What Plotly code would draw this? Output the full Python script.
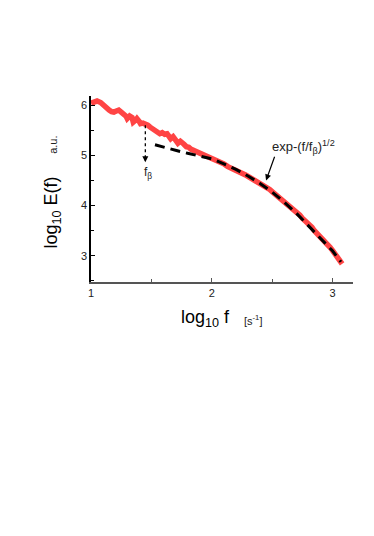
import plotly.graph_objects as go

# measured spectrum (log10 f, log10 E)
spec_x = [1.00, 1.03, 1.05, 1.08, 1.10, 1.13, 1.15, 1.17, 1.19, 1.21, 1.23, 1.25, 1.27,
          1.29, 1.30, 1.32, 1.34, 1.35, 1.37, 1.38, 1.40, 1.41, 1.43, 1.45, 1.47, 1.49,
          1.51, 1.53, 1.55, 1.57, 1.59, 1.61, 1.63, 1.65, 1.66, 1.68, 1.70, 1.72, 1.74,
          1.75, 1.77, 1.79, 1.81, 1.83, 1.85, 1.88, 1.90, 1.93, 1.95, 1.98, 2.00, 2.03,
          2.05, 2.08, 2.10, 2.13, 2.15, 2.18, 2.20, 2.23, 2.25, 2.28, 2.30, 2.33, 2.35,
          2.38, 2.40, 2.43, 2.45, 2.48, 2.50, 2.53, 2.55, 2.58, 2.60, 2.63, 2.65, 2.68,
          2.70, 2.73, 2.75, 2.78, 2.80, 2.83, 2.85, 2.88, 2.90, 2.93, 2.95, 2.98, 3.00,
          3.03, 3.05, 3.07, 3.08]
spec_y = [6.04, 6.07, 6.08, 6.05, 6.00, 5.95, 5.90, 5.87, 5.86, 5.88, 5.90, 5.86, 5.83,
          5.78, 5.73, 5.78, 5.75, 5.66, 5.70, 5.73, 5.67, 5.63, 5.64, 5.63, 5.60, 5.56,
          5.53, 5.50, 5.48, 5.43, 5.45, 5.42, 5.43, 5.36, 5.33, 5.37, 5.30, 5.24, 5.28,
          5.27, 5.22, 5.17, 5.16, 5.12, 5.10, 5.07, 5.04, 5.01, 4.99, 4.96, 4.94, 4.90,
          4.88, 4.85, 4.83, 4.78, 4.76, 4.73, 4.71, 4.66, 4.64, 4.61, 4.58, 4.54, 4.51,
          4.47, 4.44, 4.40, 4.37, 4.32, 4.28, 4.22, 4.18, 4.13, 4.09, 4.03, 3.98, 3.93,
          3.87, 3.81, 3.75, 3.69, 3.62, 3.57, 3.50, 3.43, 3.37, 3.30, 3.24, 3.17, 3.11,
          3.02, 2.95, 2.89, 2.84]

# stretched exponential fit
fit_x = [1.53, 1.60, 1.70, 1.80, 1.90, 2.00, 2.10, 2.20, 2.30, 2.40, 2.50, 2.60, 2.70,
         2.80, 2.90, 3.00, 3.07]
fit_y = [5.21, 5.17, 5.10, 5.04, 4.98, 4.93, 4.83, 4.72, 4.59, 4.44, 4.27, 4.07, 3.85,
         3.60, 3.35, 3.10, 2.88]

f_beta = 1.45

FONT = "Liberation Sans, Arial, sans-serif"

fig = go.Figure()

fig.add_trace(go.Scatter(
    x=spec_x, y=spec_y, mode='lines',
    line=dict(color='#ff4444', width=5.5),
    hoverinfo='skip'
))

fig.add_trace(go.Scatter(
    x=fit_x, y=fit_y, mode='lines',
    line=dict(color='black', width=3, dash='10px,6px'),
    hoverinfo='skip'
))

# dotted drop line marking f_beta
fig.add_trace(go.Scatter(
    x=[f_beta, f_beta], y=[5.60, 4.90], mode='lines',
    line=dict(color='black', width=1.3, dash='dot'),
    hoverinfo='skip'
))

fig.add_annotation(x=f_beta, y=4.86, ax=f_beta, ay=4.95, xref='x', yref='y',
                   axref='x', ayref='y', text='', showarrow=True,
                   arrowhead=2, arrowsize=1, arrowwidth=1.2, arrowcolor='black')
fig.add_annotation(x=1.47, y=4.64, xref='x', yref='y', text='f<sub>β</sub>',
                   showarrow=False, font=dict(size=12, color='#222'))

# fit label and arrow
fig.add_annotation(x=2.45, y=4.50, ax=2.525, ay=5.00, xref='x', yref='y',
                   axref='x', ayref='y', text='', showarrow=True,
                   arrowhead=2, arrowsize=1, arrowwidth=1.2, arrowcolor='black')
fig.add_annotation(x=2.76, y=5.17, xref='x', yref='y',
                   text='exp-(f/f<sub>β</sub>)<sup>1/2</sup>',
                   showarrow=False, font=dict(size=13, color='#222'))

# axis titles
titles = [
    (-0.148, 0.375, 'log<sub>10</sub> E(f)', -90, 18, 'black'),
    (-0.143, 0.735, 'a.u.', -90, 11, '#222'),
    (0.436, -0.195, 'log<sub>10</sub> f', 0, 18, 'black'),
    (0.617, -0.205, '[s<sup>-1</sup>]', 0, 11, '#222'),
]
for tx, ty, text, angle, size, color in titles:
    fig.add_annotation(x=tx, y=ty, xref='paper', yref='paper', text=text,
                       textangle=angle, showarrow=False,
                       xanchor='center', yanchor='middle',
                       font=dict(size=size, color=color))

fig.update_xaxes(
    range=[1, 3.17], dtick=1, tick0=1,
    showline=True, linecolor='#555', linewidth=1.5,
    ticks='inside', ticklen=4, tickcolor='#555', tickwidth=1,
    minor=dict(dtick=0.5, tick0=1, ticks='inside', ticklen=3, tickcolor='#555'),
    showgrid=False, zeroline=False,
    tickfont=dict(size=11, color='#222', family=FONT)
)
fig.update_yaxes(
    range=[2.48, 6.18], dtick=1, tick0=3,
    showline=True, linecolor='black', linewidth=1.5,
    ticks='inside', ticklen=4, tickcolor='black', tickwidth=1,
    minor=dict(dtick=0.5, tick0=3, ticks='inside', ticklen=3, tickcolor='black'),
    showgrid=False, zeroline=False,
    tickfont=dict(size=11, color='#222', family=FONT)
)

# page body adds an 8px offset, so the figure is sized 8px smaller
fig.update_layout(
    width=366, height=528,
    margin=dict(l=83, r=21, t=88, b=254),
    showlegend=False,
    font=dict(family=FONT),
    paper_bgcolor='white',
    plot_bgcolor='white'
)

fig.write_html("out.html")
